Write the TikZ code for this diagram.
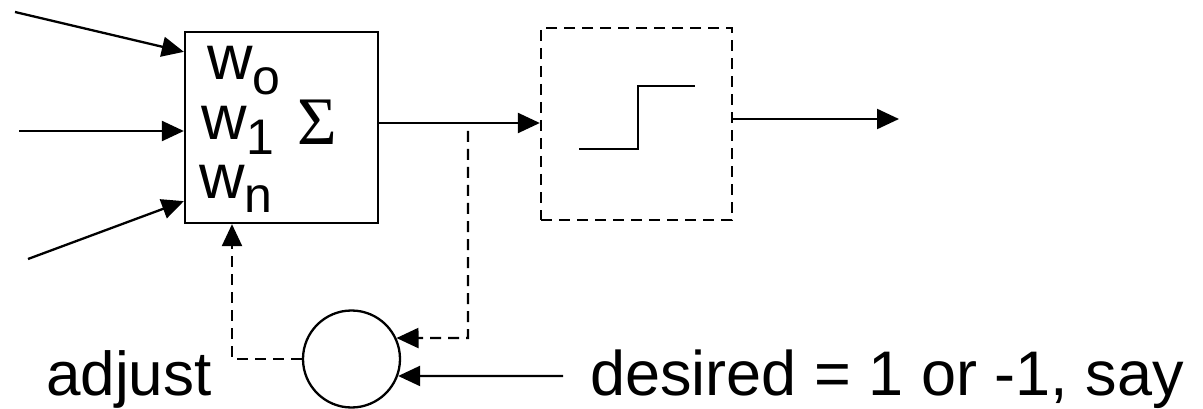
\documentclass[tikz,border=0pt]{standalone}
\usepackage{fontspec}
\setmainfont{Liberation Sans}
\newfontfamily\sigfont{Liberation Serif}
\usetikzlibrary{arrows.meta}
\tikzset{
  ln/.style={line width=2.3pt, black},
  tip/.style={-{Triangle[length=22pt,width=20pt]}},
  dsh/.style={dash pattern=on 11pt off 7pt},
  lbl/.style={inner sep=0pt, anchor=base west},
}
\newcommand{\wsub}[1]{{\fontsize{63}{63}\selectfont w\raisebox{-15pt}{\fontsize{50}{50}\selectfont #1}}}
\begin{document}
\begin{tikzpicture}[x=1pt,y=-1pt]
\useasboundingbox (0,0) rectangle (1203,409);
% summing box
\node[draw, ln, minimum width=193pt, minimum height=191pt, inner sep=0pt] (sum) at (281.5,127.5) {};
\node[lbl] (w0) at (207,80) {\wsub{o}};
\node[lbl] (w1) at (201,140) {\wsub{1}};
\node[lbl] (wn) at (199,198) {\wsub{n}};
\node[lbl] (sig) at (297,145) {\fontsize{68}{68}\sigfont Σ};
% inputs
\coordinate (in1) at (15,12);
\coordinate (in2) at (19,131);
\coordinate (in3) at (28,259);
\draw[ln,tip] (in1) -- ([yshift=-21pt]sum.north west);
\draw[ln,tip] (in2) -- ([yshift=-3.5pt]sum.west);
\draw[ln,tip] (in3) -- ([yshift=23pt]sum.south west);
% threshold box
\node[draw, ln, dsh, minimum width=191pt, minimum height=192pt, inner sep=0pt] (thr) at (636.5,124) {};
\draw[ln] (579,149) -- (638,149) -- (638,86) -- (695,86);
\draw[ln,tip] ([yshift=4.5pt]sum.east) -- ([yshift=4.5pt]sum.east -| thr.west);
\coordinate (out) at (899,119);
\draw[ln,tip] (thr.east |- out) -- (out);
% comparator
\node[draw, ln, circle, minimum size=97pt, inner sep=0pt] (cmp) at (351.5,359) {};
\coordinate (br) at (468,131);
\draw[ln,dsh,tip] (br) -- (468,338) -- (cmp.25.66);
\coordinate (adj) at (232,359);
\draw[ln,dsh,tip] (cmp.west) -- (adj) -- (adj |- sum.south);
\coordinate (dstart) at (563,376);
\draw[ln,tip] (dstart) -- (cmp.-20.5);
% labels
\node[lbl] (adjust) at (46,395) {\fontsize{62}{62}\selectfont adjust};
\node[lbl] (desired) at (590,395) {\fontsize{63}{63}\selectfont desired = 1 or -1, say};
\end{tikzpicture}
\end{document}
